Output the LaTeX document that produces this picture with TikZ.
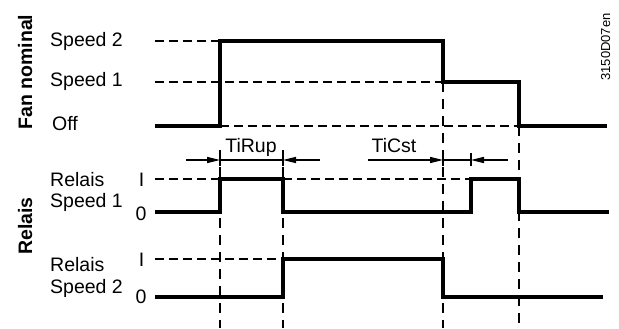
\documentclass[tikz,border=0pt]{standalone}
\usepackage{fontspec}
\setmainfont{Liberation Sans}
\usetikzlibrary{arrows.meta}
\begin{document}
\begin{tikzpicture}[x=1pt,y=-1pt,
  sig/.style={line width=4pt, line join=miter, line cap=butt},
  hdash/.style={line width=1.5pt, dash pattern=on 9pt off 5pt},
  vdash/.style={line width=1.7pt, dash pattern=on 10pt off 7pt},
  dim/.style={line width=1.3pt, -{Triangle[length=13pt,width=6pt]}},
  tick/.style={line width=1.5pt},
  lbl/.style={inner sep=0pt, font=\fontsize{19.5}{21.5}\selectfont},
  title/.style={inner sep=0pt, rotate=90, anchor=base, font=\fontsize{19.5}{21.5}\selectfont\bfseries},
  lvl/.style={inner sep=0pt, anchor=base, font=\fontsize{19.5}{21.5}\selectfont}]
\useasboundingbox (0,0) rectangle (619,329);

% side titles
\node[title] (tfan) at (32,72) {Fan nominal};
\node[title] (trel) at (32,226) {Relais};
\node[inner sep=0pt, rotate=90, anchor=base, font=\fontsize{13}{15}\selectfont] (code) at (610,47) {3150D07en};

% fan labels
\node[lbl, anchor=base west] (ls2) at (50,47) {Speed 2};
\node[lbl, anchor=base west] (ls1) at (50,87) {Speed 1};
\node[lbl, anchor=base west] (loff) at (52,131) {Off};

% relay labels
\node[lbl, anchor=base west] (lr1a) at (50,186) {Relais};
\node[lbl, anchor=base west] (lr1b) at (50,207) {Speed 1};
\node[lbl, anchor=base west] (lr2a) at (50,271) {Relais};
\node[lbl, anchor=base west] (lr2b) at (50,293) {Speed 2};
\node[lvl] (i1) at (141.5,186) {I};
\node[lvl] (z1) at (141,220) {0};
\node[lvl] (i2) at (141.5,266) {I};
\node[lvl] (z2) at (141,303) {0};

% time labels
\node[lvl] (tirup) at (251,152) {TiRup};
\node[lvl] (ticst) at (394,153) {TiCst};

% reference dashed lines (horizontal)
\draw[hdash] (155,41) -- (220,41);
\draw[hdash] (155,82) -- (443,82);
\draw[hdash] (220,126) -- (519,126);
\draw[hdash] (155,179) -- (220,179);
\draw[hdash] (283,179) -- (471,179);
\draw[hdash] (155,259) -- (283,259);

% vertical dashed lines
\draw[vdash] (220,150) -- (220,328);
\draw[vdash] (283,150) -- (283,328);
\draw[vdash] (443,82) -- (443,328);
\draw[vdash] (519,126) -- (519,328);

% signals
\draw[sig] (155,126) -- (220,126) -- (220,41) -- (443,41) -- (443,82) -- (519,82) -- (519,126) -- (607,126);
\draw[sig] (155,212) -- (220,212) -- (220,179) -- (283,179) -- (283,212) -- (471,212) -- (471,179) -- (519,179) -- (519,212) -- (609,212);
\draw[sig] (155,297) -- (283,297) -- (283,259) -- (443,259) -- (443,297) -- (603,297);

% timing dimensions
\coordinate (a1) at (186,160);
\coordinate (a2) at (220,160);
\coordinate (a3) at (283,160);
\coordinate (a4) at (320,160);
\draw[dim] (a1) -- (a2);
\draw[line width=1.3pt] (a2) -- (a3);
\draw[dim] (a4) -- (a3);
\draw[tick] (220,153) -- (220,166);
\draw[tick] (283,153) -- (283,166);

\coordinate (b1) at (368,160);
\coordinate (b2) at (443,160);
\coordinate (b3) at (471,160);
\coordinate (b4) at (508,160);
\draw[dim] (b1) -- (b2);
\draw[line width=1.3pt] (b2) -- (b3);
\draw[dim] (b4) -- (b3);
\draw[tick] (443,153) -- (443,166);
\draw[tick] (471,153) -- (471,166);
\end{tikzpicture}
\end{document}
